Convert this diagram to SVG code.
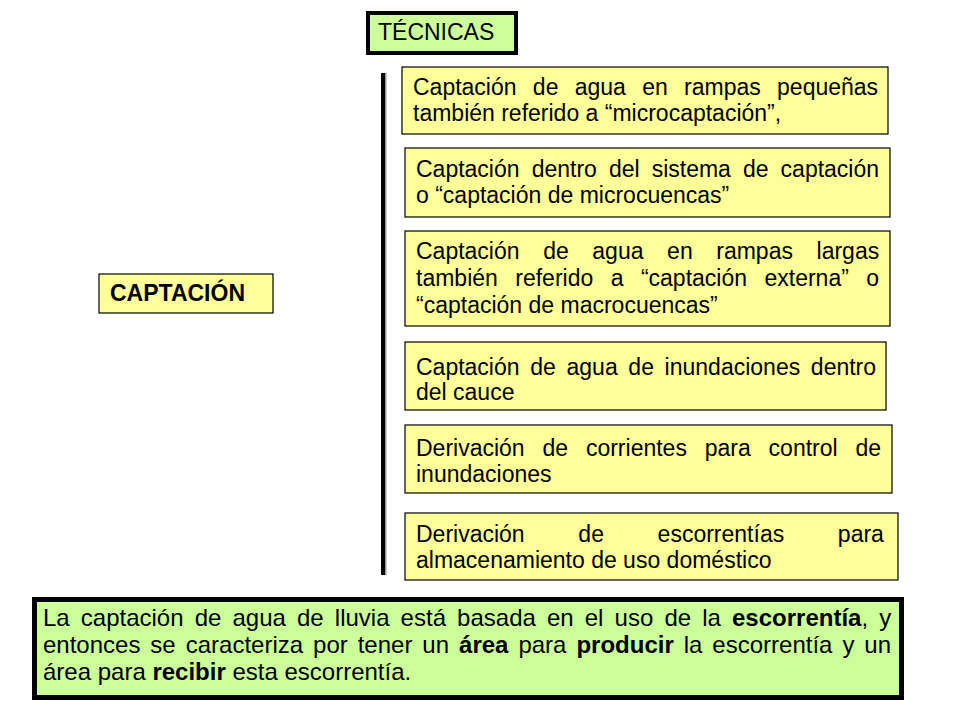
<svg xmlns="http://www.w3.org/2000/svg" width="960" height="720" viewBox="0 0 960 720">
<style>
.t{font-family:"Liberation Sans",Arial,sans-serif;font-size:23px;fill:#000}
.n{font-size:24px}
.b{font-weight:bold}
.y{fill:#ffff99;stroke:#000;stroke-width:1.2}
.g{fill:#ccff99;stroke:#000}
</style>
<rect width="960" height="720" fill="#fff"/>
<g id="connectors">
<rect x="381" y="73" width="4" height="502" fill="#000"/>
<rect x="385" y="73" width="1.5" height="502" fill="#999"/>
</g>
<g id="tecnicas">
<rect class="g" x="368" y="13" width="148" height="40" stroke-width="4"/>
<text class="t" x="378" y="40">TÉCNICAS</text>
</g>
<g id="captacion">
<rect class="y" x="99" y="274" width="174" height="39"/>
<text class="t b" x="110" y="301">CAPTACIÓN</text>
</g>
<g id="box1">
<rect class="y" x="402" y="67" width="486" height="67"/>
<text class="t" x="413" y="95" style="word-spacing:9.9px">Captación de agua en rampas pequeñas</text>
<text class="t" x="413" y="121">también referido a “microcaptación”,</text>
</g>
<g id="box2">
<rect class="y" x="405" y="148" width="485" height="69"/>
<text class="t" x="416" y="177" style="word-spacing:5.67px">Captación dentro del sistema de captación</text>
<text class="t" x="416" y="203">o “captación de microcuencas”</text>
</g>
<g id="box3">
<rect class="y" x="405" y="231" width="485" height="95"/>
<text class="t" x="416" y="259" style="word-spacing:17.2px">Captación de agua en rampas largas</text>
<text class="t" x="416" y="286" style="word-spacing:11.05px">también referido a “captación externa” o</text>
<text class="t" x="416" y="313">“captación de macrocuencas”</text>
</g>
<g id="box4">
<rect class="y" x="405" y="342" width="481" height="68"/>
<text class="t" x="416" y="375" style="word-spacing:4.29px">Captación de agua de inundaciones dentro</text>
<text class="t" x="416" y="400">del cauce</text>
</g>
<g id="box5">
<rect class="y" x="405" y="425" width="487" height="68"/>
<text class="t" x="416" y="456" style="word-spacing:11.45px">Derivación de corrientes para control de</text>
<text class="t" x="416" y="482">inundaciones</text>
</g>
<g id="box6">
<rect class="y" x="405" y="513" width="493" height="67"/>
<text class="t" x="416" y="542" style="word-spacing:47.3px">Derivación de escorrentías para</text>
<text class="t" x="416" y="568">almacenamiento de uso doméstico</text>
</g>
<g id="nota">
<rect class="g" x="34.5" y="599.5" width="867" height="98" stroke-width="5"/>
<text class="t n" x="43" y="626" style="word-spacing:4.45px">La captación de agua de lluvia está basada en el uso de la <tspan class="b">escorrentía</tspan>, y</text>
<text class="t n" x="43" y="653" style="word-spacing:3.3px">entonces se caracteriza por tener un <tspan class="b">área</tspan> para <tspan class="b">producir</tspan> la escorrentía y un</text>
<text class="t n" x="43" y="680">área para <tspan class="b">recibir</tspan> esta escorrentía.</text>
</g>
</svg>
